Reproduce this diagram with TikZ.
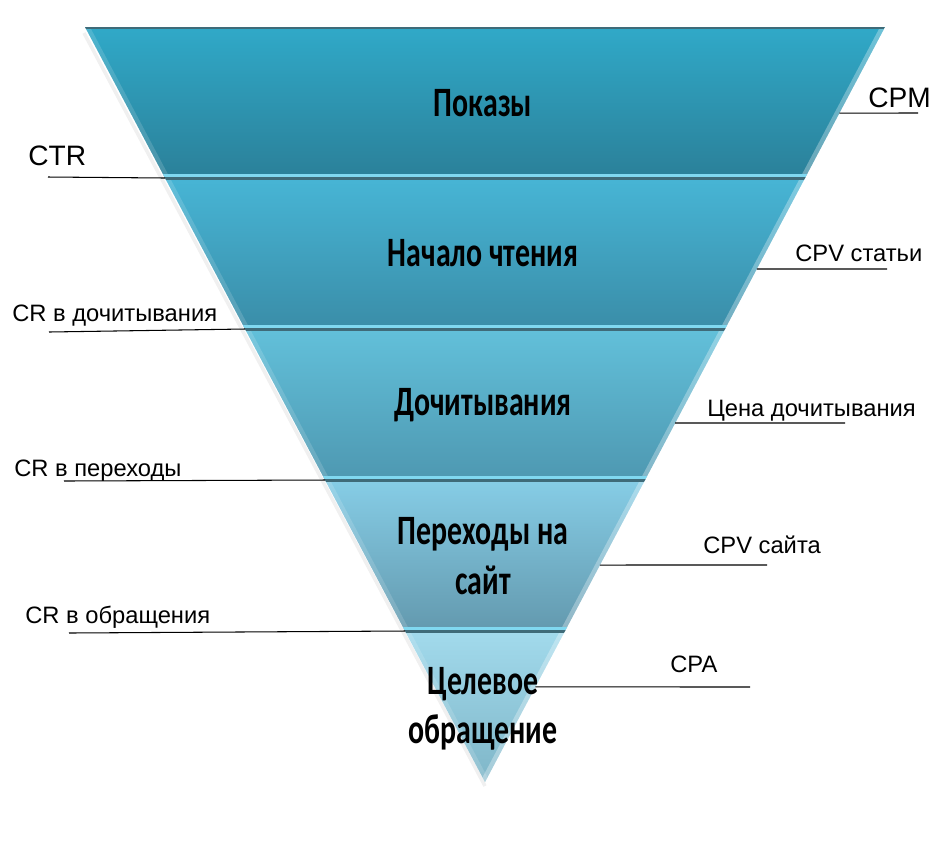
\documentclass[tikz,border=0pt]{standalone}
\usepackage{fontspec}
\setmainfont{Liberation Sans}
\newfontfamily\stagefont{Carlito}
\usetikzlibrary{calc,positioning}

\definecolor{toneTop1}{HTML}{30A9C8}
\definecolor{toneBot1}{HTML}{2B8099}
\definecolor{toneTop2}{HTML}{47B5D5}
\definecolor{toneBot2}{HTML}{3A8DA8}
\definecolor{toneTop3}{HTML}{62C0DA}
\definecolor{toneBot3}{HTML}{4E98B1}
\definecolor{toneTop4}{HTML}{86CDE6}
\definecolor{toneBot4}{HTML}{6399AE}
\definecolor{toneTop5}{HTML}{A2DAEC}
\definecolor{toneBot5}{HTML}{7FB6C8}
\definecolor{sepLight}{HTML}{80D8F0}
\definecolor{sepDark}{HTML}{3F6B79}

\tikzset{
  stage/.style={font=\stagefont\bfseries\fontsize{17}{20}\selectfont, align=center, yscale=1.4, transform shape},
  metric/.style={font=\fontsize{13.5}{16}\selectfont, inner sep=0pt},
  bigmetric/.style={font=\fontsize{16}{19}\selectfont, inner sep=0pt},
  lead/.style={draw=black, line width=0.6pt},
  seplight/.style={draw=sepLight, line width=1.6pt},
  sepdark/.style={draw=sepDark, line width=1.3pt},
  bevel/.style={draw=white, opacity=0.3, line width=5pt}
}

\begin{document}
\begin{tikzpicture}[x=0.02cm, y=-0.02cm]
\useasboundingbox (0,0) rectangle (950,850);
% funnel corners
\coordinate (tl) at (85,27);
\coordinate (tr) at (885,27);
\coordinate (ap) at (485,782);

% shadow
\draw[black, opacity=0.06, line width=2pt] ($(tl)+(-1,6)$) -- ($(ap)+(0,4)$);

% bands
\foreach \a/\b/\c in {0/0.2/1, 0.2/0.4/2, 0.4/0.6/3, 0.6/0.8/4, 0.8/1/5}{
  \shade[top color=toneTop\c, bottom color=toneBot\c]
    ($(tl)!\a!(ap)$) -- ($(tr)!\a!(ap)$) -- ($(tr)!\b!(ap)$) -- ($(tl)!\b!(ap)$) -- cycle;
}

\begin{scope}
\clip (tl) -- (tr) -- (ap) -- cycle;
\draw[bevel] (tr) -- (ap);
\draw[bevel, opacity=0.15] (tl) -- (ap);
\draw[sepDark, line width=2pt] (tl) -- (tr);
% band boundaries
\foreach \t/\n in {0.2/1, 0.4/2, 0.6/3, 0.8/4}{
  \coordinate (b\n l) at ($(tl)!\t!(ap)$);
  \coordinate (b\n r) at ($(tr)!\t!(ap)$);
  \draw[seplight] ($(b\n l)+(-5,-2.5)$) -- ($(b\n r)+(5,-2.5)$);
  \draw[sepdark] ($(b\n l)+(-5,0.5)$) -- ($(b\n r)+(5,0.5)$);
}
\end{scope}

% stages
\node[stage] (views) at (483,103) {Показы};
\node[stage] (reads) at (483,253) {Начало чтения};
\node[stage] (fullreads) at (483,405) {Дочитывания};
\node[stage] (clicks) at (483,556) {Переходы на\\сайт};
\node[stage] (leads) at (483,709) {Целевое\\обращение};

% left metrics
\node[bigmetric, anchor=base west] (ctr) at (28,165) {CTR};
\coordinate (ctrend) at (48,177);
\draw[lead] (ctrend) -- (b1l);
\node[metric, anchor=base west] (crread) at (12,321) {CR в дочитывания};
\coordinate (crreadend) at (49,332);
\draw[lead] (crreadend) -- (b2l);
\node[metric, anchor=base west] (crclick) at (14,476) {CR в переходы};
\coordinate (crclickend) at (64,481);
\draw[lead] (crclickend) -- (b3l);
\node[metric, anchor=base west] (crlead) at (25,623) {CR в обращения};
\coordinate (crleadend) at (69,633);
\draw[lead] (crleadend) -- (b4l);

% right metrics
\node[bigmetric, anchor=base west] (cpm) at (868,107) {CPM};
\coordinate (cpmend) at (918,113);
\draw[lead] ($(tr)!0.114!(ap)$) -- (cpmend);
\node[metric, anchor=base west] (cpvart) at (795,261) {CPV статьи};
\coordinate (cpvartend) at (887,269);
\draw[lead] ($(tr)!0.3205!(ap)$) -- (cpvartend);
\node[metric, anchor=base west] (readcost) at (707,416) {Цена дочитывания};
\coordinate (readcostend) at (845,423);
\draw[lead] ($(tr)!0.5245!(ap)$) -- (readcostend);
\node[metric, anchor=base west] (cpvsite) at (703,553) {CPV сайта};
\coordinate (cpvsiteend) at (767,565);
\draw[lead] ($(tr)!0.7126!(ap)$) -- (cpvsiteend);
\node[metric, anchor=base west] (cpa) at (670,672) {CPA};
\coordinate (cpaend) at (750,687);
\draw[lead] ($(tr)!0.874!(ap)$) -- (cpaend);
\end{tikzpicture}
\end{document}
